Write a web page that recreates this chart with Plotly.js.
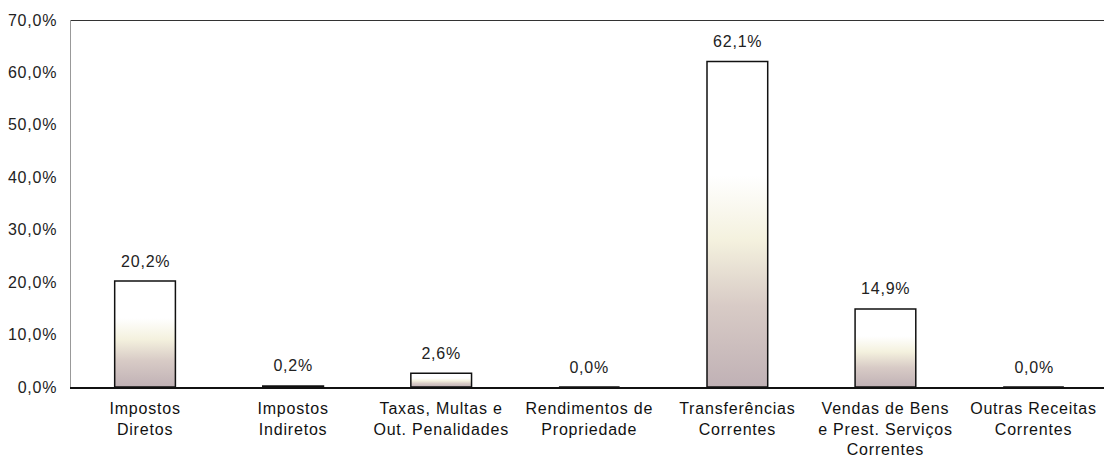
<!DOCTYPE html>
<html>
<head>
<meta charset="utf-8">
<script src="https://cdn.plot.ly/plotly-3.0.1.min.js"></script>
<style>
html, body { margin: 0; padding: 0; background: #fff; }
#chart { width: 1104px; height: 458px; }
.main-svg text { letter-spacing: 0.8px; }
</style>
</head>
<body>
<div id="chart"></div>
<script>
const categories = [
  "Impostos<br>Diretos",
  "Impostos<br>Indiretos",
  "Taxas, Multas e<br>Out. Penalidades",
  "Rendimentos de<br>Propriedade",
  "Transferências<br>Correntes",
  "Vendas de Bens<br>e Prest. Serviços<br>Correntes",
  "Outras Receitas<br>Correntes"
];
const values = [20.2, 0.2, 2.6, 0.0, 62.1, 14.9, 0.0];
const valueLabels = ["20,2%", "0,2%", "2,6%", "0,0%", "62,1%", "14,9%", "0,0%"];
const yTicks = [0, 10, 20, 30, 40, 50, 60, 70];
const yTickLabels = ["0,0%", "10,0%", "20,0%", "30,0%", "40,0%", "50,0%", "60,0%", "70,0%"];

const fontFam = "Liberation Sans, Arial, sans-serif";

const trace = {
  type: "bar",
  x: categories,
  y: values,
  marker: { color: "#ffffff", line: { color: "#111111", width: 1.5 } },
  hoverinfo: "skip"
};

const annotations = categories.map((c, i) => ({
  x: c, y: values[i], xref: "x", yref: "y",
  text: valueLabels[i], showarrow: false,
  yanchor: "middle", yshift: 20,
  font: { family: fontFam, size: 16, color: "#222" }
}));

const layout = {
  width: 1104, height: 458,
  margin: { l: 71, r: 0, t: 20, b: 71 },
  paper_bgcolor: "#fff", plot_bgcolor: "#fff",
  bargap: 0.59,
  showlegend: false,
  separators: ",.",
  xaxis: {
    type: "category",
    range: [-0.5, 6.476],
    showgrid: false, zeroline: false,
    showline: true, linecolor: "#111", linewidth: 1.5,
    ticks: "", ticklabelstandoff: 6,
    tickfont: { family: fontFam, size: 16, color: "#111" },
    fixedrange: true
  },
  yaxis: {
    range: [0, 70],
    tickmode: "array",
    tickvals: yTicks,
    ticktext: yTickLabels,
    showgrid: false, zeroline: false,
    showline: true, linecolor: "#999", linewidth: 1.5,
    ticks: "", ticklabelstandoff: 9,
    tickfont: { family: fontFam, size: 16, color: "#222" },
    fixedrange: true
  },
  shapes: [{
    type: "line", xref: "paper", yref: "y",
    x0: 0, x1: 1, y0: 70, y1: 70,
    line: { color: "#333", width: 2 }
  }],
  annotations: annotations
};

Plotly.newPlot("chart", [trace], layout, { displayModeBar: false, staticPlot: true }).then(gd => {
  const svg = gd.querySelector(".main-svg");
  const ns = "http://www.w3.org/2000/svg";
  let defs = svg.querySelector("defs");
  if (!defs) { defs = document.createElementNS(ns, "defs"); svg.insertBefore(defs, svg.firstChild); }
  const grad = document.createElementNS(ns, "linearGradient");
  grad.setAttribute("id", "barGrad");
  grad.setAttribute("x1", "0"); grad.setAttribute("y1", "0");
  grad.setAttribute("x2", "0"); grad.setAttribute("y2", "1");
  [["0", "#ffffff"], ["0.35", "#ffffff"], ["0.55", "#f4f1de"], ["0.75", "#d8cbc6"], ["1", "#c0b1b5"]].forEach(([o, c]) => {
    const s = document.createElementNS(ns, "stop");
    s.setAttribute("offset", o); s.setAttribute("stop-color", c);
    grad.appendChild(s);
  });
  defs.appendChild(grad);
  gd.querySelectorAll(".bars path").forEach(p => { p.style.fill = "url(#barGrad)"; });
  // widen line spacing of multi-line category labels
  gd.querySelectorAll(".xtick text tspan.line").forEach(t => {
    if (t.getAttribute("dy") === "1.3em") t.setAttribute("dy", "1.34em");
  });
});
</script>
</body>
</html>
